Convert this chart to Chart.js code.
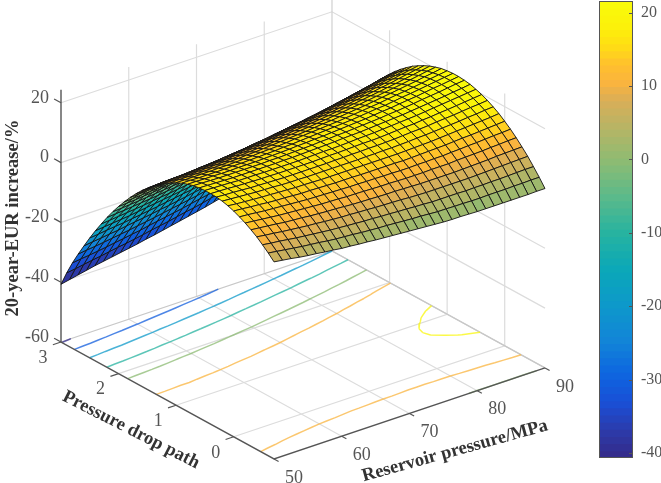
<!DOCTYPE html>
<html>
<head>
<meta charset="utf-8">
<script src="https://cdn.jsdelivr.net/npm/chart.js@4/dist/chart.umd.min.js"></script>
<style>
body{margin:0;background:#fff;}
#wrap{position:relative;width:661px;height:483px;overflow:hidden;}
canvas{filter:blur(0.4px);}
#surf{position:absolute;left:0;top:0;}
#bar{position:absolute;left:599px;top:0;}
</style>
</head>
<body>
<div id="wrap">
<canvas id="surf" width="661" height="483"></canvas>
<canvas id="bar" width="62" height="483"></canvas>
</div>
<script>
const pressures=[50,51.25,52.5,53.75,55,56.25,57.5,58.75,60,61.25,62.5,63.75,65,66.25,67.5,68.75,70,71.25,72.5,73.75,75,76.25,77.5,78.75,80,81.25,82.5,83.75,85,86.25,87.5,88.75,90];
const paths=[-0.7,-0.6,-0.5,-0.4,-0.3,-0.2,-0.1,0,0.1,0.2,0.3,0.4,0.5,0.6,0.7,0.8,0.9,1,1.1,1.2,1.3,1.4,1.5,1.6,1.7,1.8,1.9,2,2.1,2.2,2.3,2.4,2.5,2.6,2.7,2.8,2.9,3];
// one row per pressure, one value per path
const eur=[
[5.9,7.8,9.5,11.1,12.4,13.6,14.6,15.5,16.2,16.7,17,17.1,17.1,16.9,16.6,16,15.3,14.4,13.3,12.1,10.7,9.1,7.3,5.4,3.3,1,-1.5,-4.1,-6.9,-9.9,-13.1,-16.4,-19.9,-23.6,-27.4,-31.4,-35.8,-40.7],
[5.5,7.4,9.1,10.7,12.1,13.3,14.4,15.3,15.9,16.5,16.8,17,17,16.8,16.5,16,15.3,14.4,13.4,12.1,10.7,9.2,7.4,5.5,3.4,1.2,-1.3,-3.9,-6.7,-9.6,-12.8,-16.1,-19.6,-23.2,-27,-31,-35.4,-40.1],
[5.1,7,8.8,10.4,11.8,13,14.1,15,15.7,16.3,16.7,16.9,16.9,16.7,16.4,15.9,15.2,14.4,13.4,12.2,10.8,9.3,7.6,5.7,3.6,1.4,-1.1,-3.7,-6.4,-9.4,-12.5,-15.8,-19.2,-22.9,-26.7,-30.7,-34.9,-39.5],
[4.6,6.6,8.4,10,11.5,12.7,13.8,14.8,15.5,16.1,16.5,16.7,16.8,16.6,16.3,15.9,15.2,14.4,13.4,12.2,10.9,9.4,7.7,5.8,3.7,1.5,-0.9,-3.4,-6.2,-9.1,-12.2,-15.5,-18.9,-22.5,-26.3,-30.3,-34.4,-38.9],
[4.2,6.2,8,9.7,11.1,12.4,13.6,14.5,15.3,15.9,16.3,16.6,16.6,16.5,16.3,15.8,15.2,14.4,13.4,12.3,10.9,9.4,7.8,5.9,3.9,1.7,-0.7,-3.2,-5.9,-8.8,-11.9,-15.2,-18.6,-22.2,-25.9,-29.9,-34,-38.3],
[3.9,5.9,7.7,9.4,10.9,12.2,13.4,14.3,15.2,15.8,16.2,16.5,16.6,16.5,16.3,15.8,15.2,14.5,13.5,12.4,11.1,9.6,8,6.1,4.1,2,-0.4,-2.9,-5.6,-8.5,-11.6,-14.8,-18.2,-21.7,-25.5,-29.4,-33.5,-37.8],
[3.5,5.6,7.4,9.1,10.7,12,13.2,14.2,15,15.7,16.1,16.4,16.6,16.5,16.3,15.9,15.3,14.5,13.6,12.5,11.2,9.8,8.2,6.3,4.4,2.2,-0.1,-2.6,-5.3,-8.2,-11.2,-14.4,-17.8,-21.3,-25.1,-29,-33,-37.3],
[3.2,5.2,7.1,8.9,10.4,11.8,13,14,14.9,15.5,16,16.4,16.5,16.5,16.3,15.9,15.3,14.6,13.7,12.6,11.4,9.9,8.3,6.6,4.6,2.5,0.2,-2.3,-5,-7.8,-10.8,-14,-17.4,-20.9,-24.6,-28.5,-32.6,-36.8],
[2.8,4.9,6.8,8.6,10.2,11.6,12.8,13.8,14.7,15.4,15.9,16.3,16.5,16.5,16.3,15.9,15.4,14.7,13.8,12.7,11.5,10.1,8.5,6.8,4.8,2.7,0.4,-2,-4.7,-7.5,-10.5,-13.6,-17,-20.5,-24.2,-28.1,-32.1,-36.3],
[2.6,4.7,6.6,8.4,10,11.4,12.7,13.8,14.7,15.4,15.9,16.3,16.5,16.5,16.4,16,15.5,14.8,14,12.9,11.7,10.3,8.8,7,5.1,3,0.8,-1.7,-4.3,-7.1,-10.1,-13.2,-16.5,-20,-23.7,-27.5,-31.6,-35.8],
[2.3,4.5,6.4,8.2,9.9,11.3,12.6,13.7,14.6,15.3,15.9,16.3,16.5,16.6,16.4,16.1,15.6,15,14.1,13.1,11.9,10.6,9,7.3,5.4,3.3,1.1,-1.3,-3.9,-6.7,-9.7,-12.8,-16.1,-19.6,-23.2,-27,-31,-35.2],
[2.1,4.2,6.2,8.1,9.7,11.2,12.5,13.6,14.5,15.3,15.9,16.3,16.5,16.6,16.5,16.2,15.7,15.1,14.3,13.3,12.1,10.8,9.3,7.6,5.7,3.6,1.4,-1,-3.6,-6.3,-9.2,-12.4,-15.6,-19.1,-22.7,-26.5,-30.5,-34.7],
[1.8,4,6,7.9,9.5,11,12.4,13.5,14.5,15.3,15.9,16.3,16.6,16.7,16.6,16.3,15.9,15.2,14.5,13.5,12.3,11,9.5,7.8,6,4,1.8,-0.6,-3.2,-5.9,-8.8,-11.9,-15.2,-18.6,-22.2,-26,-30,-34.1],
[1.6,3.8,5.9,7.8,9.4,11,12.3,13.5,14.5,15.3,15.9,16.4,16.7,16.8,16.7,16.5,16,15.4,14.7,13.7,12.6,11.3,9.8,8.2,6.3,4.3,2.1,-0.2,-2.8,-5.5,-8.4,-11.4,-14.7,-18.1,-21.7,-25.5,-29.4,-33.5],
[1.4,3.7,5.7,7.6,9.3,10.9,12.3,13.5,14.5,15.3,16,16.5,16.8,16.9,16.8,16.6,16.2,15.7,14.9,14,12.9,11.6,10.1,8.5,6.7,4.7,2.5,0.2,-2.3,-5,-7.9,-11,-14.2,-17.6,-21.2,-24.9,-28.8,-32.9],
[1.2,3.5,5.6,7.5,9.2,10.8,12.2,13.4,14.5,15.3,16,16.5,16.8,17,17,16.8,16.4,15.9,15.1,14.2,13.1,11.9,10.4,8.8,7,5.1,2.9,0.6,-1.9,-4.6,-7.4,-10.5,-13.7,-17.1,-20.6,-24.3,-28.3,-32.3],
[1,3.3,5.4,7.4,9.1,10.7,12.2,13.4,14.5,15.3,16.1,16.6,16.9,17.1,17.1,16.9,16.6,16.1,15.3,14.5,13.4,12.2,10.7,9.1,7.4,5.4,3.3,1,-1.5,-4.1,-7,-10,-13.2,-16.5,-20.1,-23.8,-27.7,-31.7],
[0.8,3.1,5.3,7.3,9.1,10.7,12.1,13.4,14.5,15.4,16.1,16.7,17,17.3,17.3,17.1,16.8,16.3,15.6,14.7,13.7,12.5,11.1,9.5,7.8,5.9,3.7,1.5,-1,-3.6,-6.4,-9.4,-12.6,-15.9,-19.5,-23.2,-27,-31.1],
[0.6,3,5.1,7.1,9,10.6,12.1,13.4,14.5,15.4,16.2,16.8,17.2,17.4,17.4,17.3,17,16.5,15.9,15,14,12.8,11.4,9.9,8.2,6.3,4.2,1.9,-0.5,-3.1,-5.9,-8.9,-12,-15.4,-18.9,-22.5,-26.4,-30.4],
[0.4,2.8,5,7,8.9,10.5,12,13.4,14.5,15.5,16.2,16.8,17.3,17.5,17.6,17.5,17.2,16.7,16.1,15.3,14.3,13.1,11.8,10.3,8.6,6.7,4.6,2.4,0,-2.6,-5.4,-8.3,-11.5,-14.8,-18.2,-21.9,-25.7,-29.7],
[0.2,2.6,4.8,6.9,8.8,10.5,12,13.3,14.5,15.5,16.3,16.9,17.4,17.7,17.8,17.7,17.4,17,16.4,15.6,14.6,13.5,12.1,10.6,9,7.1,5.1,2.8,0.5,-2.1,-4.9,-7.8,-10.9,-14.2,-17.6,-21.3,-25.1,-29.1],
[0.1,2.6,4.8,6.9,8.8,10.5,12.1,13.4,14.6,15.6,16.4,17.1,17.6,17.9,18,17.9,17.7,17.3,16.7,15.9,15,13.8,12.5,11.1,9.4,7.6,5.5,3.4,1,-1.6,-4.3,-7.2,-10.3,-13.6,-17,-20.6,-24.4,-28.4],
[0.1,2.5,4.8,6.9,8.8,10.6,12.1,13.5,14.7,15.7,16.6,17.3,17.8,18.1,18.2,18.2,18,17.6,17,16.3,15.3,14.2,12.9,11.5,9.8,8,6,3.9,1.5,-1,-3.7,-6.6,-9.7,-12.9,-16.4,-20,-23.7,-27.7],
[0,2.5,4.8,6.9,8.8,10.6,12.2,13.6,14.8,15.9,16.8,17.5,18,18.3,18.5,18.5,18.3,17.9,17.3,16.6,15.7,14.6,13.4,11.9,10.3,8.5,6.5,4.4,2,-0.5,-3.2,-6,-9.1,-12.3,-15.7,-19.3,-23.1,-27],
[-0.1,2.4,4.7,6.9,8.8,10.6,12.2,13.7,14.9,16,16.9,17.6,18.2,18.5,18.7,18.7,18.5,18.2,17.7,17,16.1,15,13.8,12.3,10.7,9,7,4.9,2.6,0.1,-2.6,-5.5,-8.5,-11.7,-15.1,-18.6,-22.4,-26.3],
[-0.1,2.4,4.8,6.9,8.9,10.8,12.4,13.8,15.1,16.2,17.1,17.9,18.4,18.8,19,19.1,18.9,18.6,18.1,17.4,16.5,15.5,14.2,12.8,11.3,9.5,7.6,5.4,3.1,0.7,-2,-4.8,-7.8,-11,-14.4,-17.9,-21.7,-25.6],
[-0.1,2.5,4.8,7,9,10.9,12.5,14,15.3,16.4,17.4,18.1,18.7,19.1,19.3,19.4,19.3,19,18.5,17.8,16.9,15.9,14.7,13.3,11.8,10,8.1,6,3.7,1.3,-1.4,-4.2,-7.2,-10.3,-13.7,-17.2,-20.9,-24.8],
[-0.1,2.5,4.9,7.1,9.1,11,12.7,14.2,15.5,16.6,17.6,18.4,19,19.4,19.7,19.7,19.6,19.3,18.9,18.2,17.4,16.4,15.2,13.8,12.3,10.6,8.7,6.6,4.3,1.9,-0.7,-3.5,-6.5,-9.7,-13,-16.5,-20.2,-24.1],
[-0.1,2.5,4.9,7.2,9.2,11.1,12.8,14.3,15.7,16.8,17.8,18.6,19.3,19.7,20,20.1,20,19.7,19.3,18.6,17.8,16.8,15.7,14.3,12.8,11.1,9.2,7.2,4.9,2.5,-0.1,-2.9,-5.8,-9,-12.3,-15.8,-19.5,-23.3],
[-0.1,2.6,5,7.3,9.4,11.3,13,14.5,15.9,17.1,18.1,18.9,19.6,20,20.3,20.5,20.4,20.1,19.7,19.1,18.3,17.4,16.2,14.9,13.4,11.7,9.8,7.8,5.6,3.2,0.6,-2.2,-5.1,-8.2,-11.5,-15,-18.7,-22.5],
[-0.1,2.6,5.1,7.4,9.5,11.4,13.2,14.7,16.1,17.3,18.4,19.2,19.9,20.4,20.7,20.8,20.8,20.6,20.2,19.6,18.8,17.9,16.8,15.4,14,12.3,10.5,8.4,6.2,3.9,1.3,-1.4,-4.4,-7.5,-10.7,-14.2,-17.8,-21.7],
[0,2.7,5.2,7.5,9.6,11.6,13.3,14.9,16.3,17.6,18.6,19.5,20.2,20.7,21.1,21.2,21.2,21,20.6,20.1,19.3,18.4,17.3,16,14.5,12.9,11.1,9.1,6.9,4.5,2,-0.7,-3.6,-6.7,-10,-13.4,-17,-20.8],
[0,2.7,5.2,7.6,9.7,11.7,13.5,15.1,16.6,17.8,18.9,19.8,20.5,21.1,21.4,21.6,21.6,21.4,21.1,20.5,19.8,18.9,17.8,16.6,15.1,13.5,11.7,9.7,7.6,5.2,2.7,0,-2.9,-5.9,-9.2,-12.6,-16.2,-20]
];
const pTicks=[50,60,70,80,90];
const sTicks=[0,1,2,3];
const zTicks=[-60,-40,-20,0,20];
const contourLevels=[-40,-30,-20,-10,0,10,20];
const barTicks=[-40,-30,-20,-10,0,10,20];
const pAxisTitle='Reservoir pressure/MPa';
const sAxisTitle='Pressure drop path';
const zAxisTitle='20-year-EUR increase/%';

const zTop=24.4;
const zMin=-40.7;
const zMax=21.6;
const colorStops=[
    [-40.7,[53,42,135]],[-37,[44,58,170]],[-33,[25,80,215]],[-29,[13,103,224]],[-25,[18,131,216]],
    [-20,[13,152,203]],[-15,[11,168,184]],[-10,[39,179,160]],[-5,[92,186,138]],[0,[143,187,114]],
    [4,[180,181,102]],[8,[217,174,88]],[10.5,[250,180,62]],[13,[255,192,45]],[15.5,[255,222,20]],[18,[252,240,10]],[21.6,[249,251,10]]
];

// +++++++++++++++++++++++++ 3D VIEW +++++++++++++++++++++++++

function project(p,s,z){
    return {
        x:61+(p-50)*6.775+(3-s)*57.57,
        y:342-(p-50)*2.275+(3-s)*31.6-(z+60)*2.99
    };
}

function colorFor(z){
    let t=Math.floor((z-zMin)/(zMax-zMin)*64);
    t=Math.max(0,Math.min(63,t));
    let v=zMin+(t+0.5)/64*(zMax-zMin);
    for(let i=0;i<colorStops.length-1;i++){
        let a=colorStops[i],b=colorStops[i+1];
        if(v<=b[0]){
            let f=(v-a[0])/(b[0]-a[0]);
            let c=a[1].map((n,k)=>Math.round(n+(b[1][k]-n)*f));
            return `rgb(${c[0]},${c[1]},${c[2]})`;
        }
    }
    return 'rgb(249,251,10)';
}

function lineSet(points,color,width){
    return {data:points,showLine:true,borderColor:color,borderWidth:width,pointRadius:0,fill:false,tension:0};
}

const sFirst=paths[0];
const pFirst=pressures[0];
const pLast=pressures[pressures.length-1];
let painted=[];

// back walls and floor
const gridColor='#dcdcdc';
for(const z of zTicks){
    if(z===-60)continue;
    painted.push(lineSet([project(pFirst,3,z),project(pLast,3,z),project(pLast,sFirst,z)],gridColor,1.2));
}
for(const p of pTicks){
    if(p===50)continue;
    painted.push(lineSet([project(p,sFirst,-60),project(p,3,-60),project(p,3,zTop)],p===90?'#d0d0d0':gridColor,1.2));
}
for(const s of sTicks){
    if(s===3)continue;
    painted.push(lineSet([project(pFirst,s,-60),project(pLast,s,-60),project(pLast,s,zTop)],gridColor,1.2));
}
painted.push(lineSet([project(pFirst,3,-60),project(pLast,3,-60),project(pLast,sFirst,-60)],'#c8c8c8',1.3));

// contours on the floor, taken from the table
function contourPoints(level){
    let pts=[];
    for(let i=0;i<pressures.length-1;i++){
        for(let j=0;j<paths.length-1;j++){
            let corners=[[i,j],[i+1,j],[i+1,j+1],[i,j+1]];
            let hits=[];
            for(let k=0;k<4;k++){
                let a=corners[k],b=corners[(k+1)%4];
                let za=eur[a[0]][a[1]],zb=eur[b[0]][b[1]];
                if((za<level)!==(zb<level)){
                    let f=(level-za)/(zb-za);
                    hits.push(project(
                        pressures[a[0]]+(pressures[b[0]]-pressures[a[0]])*f,
                        paths[a[1]]+(paths[b[1]]-paths[a[1]])*f,-60));
                }
            }
            if(hits.length>=2){
                pts.push(hits[0],hits[1],{x:NaN,y:NaN});
            }
        }
    }
    return pts;
}
for(const level of contourLevels){
    let soft=colorFor(level).replace('rgb(','rgba(').replace(')',',0.75)');
    painted.push(lineSet(contourPoints(level),soft,1.5));
}

// axis lines and ticks
const axisColor='#555';
painted.push(lineSet([project(50,3,zTop),project(50,3,-60),project(50,sFirst,-60),project(90,sFirst,-60)],axisColor,1.4));
for(const z of zTicks){
    painted.push(lineSet([project(50,3,z),project(50,3.12,z)],axisColor,1.2));
}
for(const s of sTicks){
    painted.push(lineSet([project(50,s,-60),project(48.8,s,-60)],axisColor,1.2));
}
for(const p of pTicks){
    painted.push(lineSet([project(p,sFirst,-60),project(p,sFirst-0.08,-60)],axisColor,1.2));
}

// surface, back to front
for(let i=pressures.length-2;i>=0;i--){
    for(let j=paths.length-2;j>=0;j--){
        let z00=eur[i][j],z10=eur[i+1][j],z11=eur[i+1][j+1],z01=eur[i][j+1];
        painted.push({
            data:[project(pressures[i],paths[j],z00),project(pressures[i+1],paths[j],z10),
                  project(pressures[i+1],paths[j+1],z11),project(pressures[i],paths[j+1],z01),
                  project(pressures[i],paths[j],z00)],
            showLine:true,fill:'shape',tension:0,pointRadius:0,
            backgroundColor:colorFor((z00+z10+z11+z01)/4),
            borderColor:'rgba(20,20,20,0.9)',borderWidth:1
        });
    }
}

const axisText={
    id:'axisText',
    afterDraw(chart){
        const ctx=chart.ctx;
        const sx=chart.scales.x,sy=chart.scales.y;
        function put(text,x,y,font,color,align,angle){
            ctx.save();
            ctx.translate(sx.getPixelForValue(x),sy.getPixelForValue(y));
            ctx.rotate((angle||0)*Math.PI/180);
            ctx.font=font;
            ctx.fillStyle=color;
            ctx.textAlign=align;
            ctx.textBaseline='middle';
            ctx.fillText(text,0,0);
            ctx.restore();
        }
        const tickFont='18px "Liberation Serif"';
        const titleFont='bold 18.5px "Liberation Serif"';
        for(const z of zTicks){
            let a=project(50,3,z);
            put(String(z),a.x-12,a.y-5,tickFont,'#555','right');
        }
        for(const s of sTicks){
            let a=project(50,s,-60);
            put(String(s),a.x-18,a.y+16,tickFont,'#555','center');
        }
        for(const p of pTicks){
            let a=project(p,sFirst,-60);
            put(String(p),a.x+20,a.y+19,tickFont,'#555','center');
        }
        put(zAxisTitle,13,218,titleFont,'#333','center',-90);
        put(sAxisTitle,131,430,titleFont,'#333','center',27);
        put(pAxisTitle,455,451,titleFont,'#333','center',-15.5);
    }
};

var surfChart=new Chart(document.getElementById('surf').getContext('2d'),{
    type:'scatter',
    data:{datasets:painted.slice().reverse()},
    options:{
        responsive:false,
        animation:false,
        layout:{padding:0},
        plugins:{legend:{display:false},tooltip:{enabled:false}},
        scales:{
            x:{type:'linear',min:0,max:661,display:false},
            y:{type:'linear',min:0,max:483,reverse:true,display:false}
        }
    },
    plugins:[axisText]
});

// ++++++++++++++++++++++++++ COLOUR BAR ++++++++++++++++++++++++++

let barSets=[];
for(let i=63;i>=0;i--){
    let lo=zMin+i/64*(zMax-zMin);
    barSets.push({data:[[lo,zMax]],backgroundColor:colorFor(lo+0.1),borderWidth:0});
}

const barFrame={
    id:'barFrame',
    afterDraw(chart){
        const ctx=chart.ctx,a=chart.chartArea,sc=chart.scales.y;
        ctx.save();
        ctx.strokeStyle='#555';
        ctx.lineWidth=1;
        ctx.strokeRect(a.left+0.5,a.top+0.5,a.right-a.left-1,a.bottom-a.top-1);
        for(const t of barTicks){
            let y=Math.round(sc.getPixelForValue(t))+0.5;
            ctx.beginPath();
            ctx.moveTo(a.right-4,y);
            ctx.lineTo(a.right,y);
            ctx.stroke();
        }
        ctx.restore();
    }
};

var barChart=new Chart(document.getElementById('bar').getContext('2d'),{
    type:'bar',
    data:{labels:['EUR'],datasets:barSets},
    options:{
        responsive:false,
        animation:false,
        layout:{padding:{top:1,bottom:25,left:0,right:0}},
        plugins:{legend:{display:false},tooltip:{enabled:false}},
        datasets:{bar:{grouped:false,barPercentage:1,categoryPercentage:1}},
        scales:{
            x:{display:false},
            y:{
                position:'right',min:zMin,max:zMax,
                afterFit(s){s.width=28;s.paddingTop=0;s.paddingBottom=0;},
                grid:{display:false,drawTicks:false},
                border:{display:false},
                ticks:{
                    stepSize:10,includeBounds:false,padding:8,
                    font:{family:'Liberation Serif',size:16},color:'#555'
                },
                afterBuildTicks(s){s.ticks=barTicks.map(v=>({value:v}));}
            }
        }
    },
    plugins:[barFrame]
});
</script>
</body>
</html>
